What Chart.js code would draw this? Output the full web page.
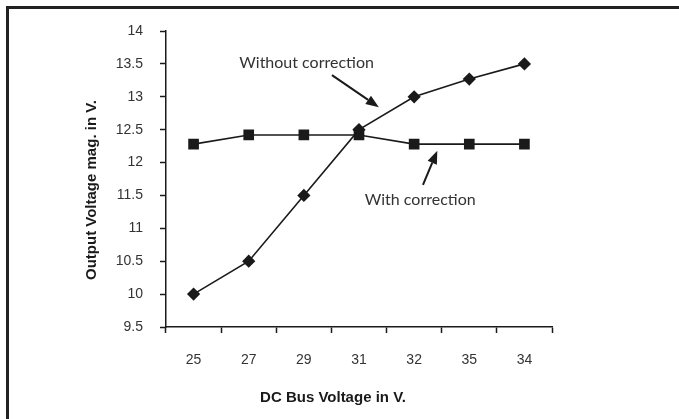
<!DOCTYPE html>
<html>
<head>
<meta charset="utf-8">
<script src="https://cdn.jsdelivr.net/npm/chart.js@4"></script>
<style>
  html, body { margin: 0; padding: 0; background: #fff; }
  #wrap { position: relative; width: 679px; height: 419px; overflow: hidden; }
  #frame {
    position: absolute; left: 6px; top: 6px; width: 700px; height: 440px;
    border-left: 3px solid #222; border-top: 3px solid #222;
  }
  canvas { position: absolute; left: 0; top: 0; }
</style>
</head>
<body>
<div id="wrap">
  <div id="frame"></div>
  <canvas id="myChart" width="679" height="419"></canvas>
</div>
<script>
// chart values
const busVoltages = ["25", "27", "29", "31", "32", "35", "34"];
const withoutCorrection = [10, 10.5, 11.5, 12.5, 13, 13.27, 13.5];
const withCorrection = [12.28, 12.42, 12.42, 12.42, 12.28, 12.28, 12.28];
const yMin = 9.5;
const yMax = 14;
const yStep = 0.5;

// callouts in data space: [category index, value]
const notes = [
  { text: "Without correction", at: [2.05, 13.51], from: [2.51, 13.33], to: [3.36, 12.84] },
  { text: "With correction", at: [4.11, 11.43], from: [4.16, 11.66], to: [4.42, 12.18] }
];

const tickFont = { family: "'Liberation Sans', Arial, sans-serif", size: 14 };
const ink = "#1a1a1a";

// draw the two arrows and the axis titles
const calloutPlugin = {
  id: "callouts",
  afterDraw(chart) {
    let ctx = chart.ctx;
    let xs = chart.scales.x;
    let ys = chart.scales.y;
    let area = chart.chartArea;
    ctx.save();

    notes.forEach(n => {
      let tx = xs.getPixelForValue(n.at[0]);
      let ty = ys.getPixelForValue(n.at[1]);
      ctx.fillStyle = "#333";
      ctx.font = "16px 'Lato', 'Open Sans', sans-serif";
      ctx.textAlign = "center";
      ctx.textBaseline = "middle";
      ctx.fillText(n.text, tx, ty);

      let x1 = xs.getPixelForValue(n.from[0]);
      let y1 = ys.getPixelForValue(n.from[1]);
      let x2 = xs.getPixelForValue(n.to[0]);
      let y2 = ys.getPixelForValue(n.to[1]);
      let ang = Math.atan2(y2 - y1, x2 - x1);
      let headLen = 13;
      let headW = 5;
      let bx = x2 - headLen * Math.cos(ang);
      let by = y2 - headLen * Math.sin(ang);
      ctx.strokeStyle = ink;
      ctx.lineWidth = 2;
      ctx.beginPath();
      ctx.moveTo(x1, y1);
      ctx.lineTo(bx, by);
      ctx.stroke();
      ctx.fillStyle = ink;
      ctx.beginPath();
      ctx.moveTo(x2, y2);
      ctx.lineTo(bx + headW * Math.sin(ang), by - headW * Math.cos(ang));
      ctx.lineTo(bx - headW * Math.sin(ang), by + headW * Math.cos(ang));
      ctx.closePath();
      ctx.fill();
    });

    // axis titles
    ctx.fillStyle = ink;
    ctx.font = "bold 15px 'Liberation Sans', Arial, sans-serif";
    ctx.textAlign = "center";
    ctx.textBaseline = "middle";
    ctx.fillText("DC Bus Voltage in V.", area.left + 167, area.bottom + 71);
    ctx.translate(area.left - 74, (area.top + area.bottom) / 2 + 11);
    ctx.rotate(-Math.PI / 2);
    ctx.fillText("Output Voltage mag. in V.", 0, 0);
    ctx.restore();
  }
};

let ctx = document.getElementById("myChart").getContext("2d");
let chart = new Chart(ctx, {
  type: "line",
  data: {
    labels: busVoltages,
    datasets: [
      {
        label: "Without correction",
        data: withoutCorrection,
        borderColor: ink,
        backgroundColor: ink,
        borderWidth: 1.6,
        pointStyle: "rectRot",
        pointRadius: 5.5,
        pointHoverRadius: 5.5,
        tension: 0
      },
      {
        label: "With correction",
        data: withCorrection,
        borderColor: ink,
        backgroundColor: ink,
        borderWidth: 1.6,
        pointStyle: "rect",
        pointRadius: 6.4,
        pointHoverRadius: 6.4,
        tension: 0
      }
    ]
  },
  options: {
    responsive: false,
    animation: false,
    events: [],
    layout: { padding: { left: 0, top: 31, right: 127, bottom: 0 } },
    plugins: {
      legend: { display: false },
      tooltip: { enabled: false }
    },
    scales: {
      x: {
        type: "category",
        offset: true,
        grid: {
          offset: true,
          drawOnChartArea: false,
          drawTicks: true,
          tickLength: 6,
          tickColor: ink,
          tickWidth: 1.5
        },
        border: { display: true, color: ink, width: 1.5 },
        ticks: { color: "#333", font: tickFont, padding: 19, maxRotation: 0 },
        afterFit: s => { s.height = 92; }
      },
      y: {
        min: yMin,
        max: yMax,
        grid: {
          drawOnChartArea: false,
          drawTicks: true,
          tickLength: 6,
          tickColor: ink,
          tickWidth: 1.5
        },
        border: { display: true, color: ink, width: 1.5 },
        ticks: {
          color: "#333",
          font: tickFont,
          padding: 17,
          stepSize: yStep,
          callback: v => String(Number(v.toFixed(1)))
        },
        afterFit: s => { s.width = 166; }
      }
    }
  },
  plugins: [calloutPlugin]
});
</script>
</body>
</html>
